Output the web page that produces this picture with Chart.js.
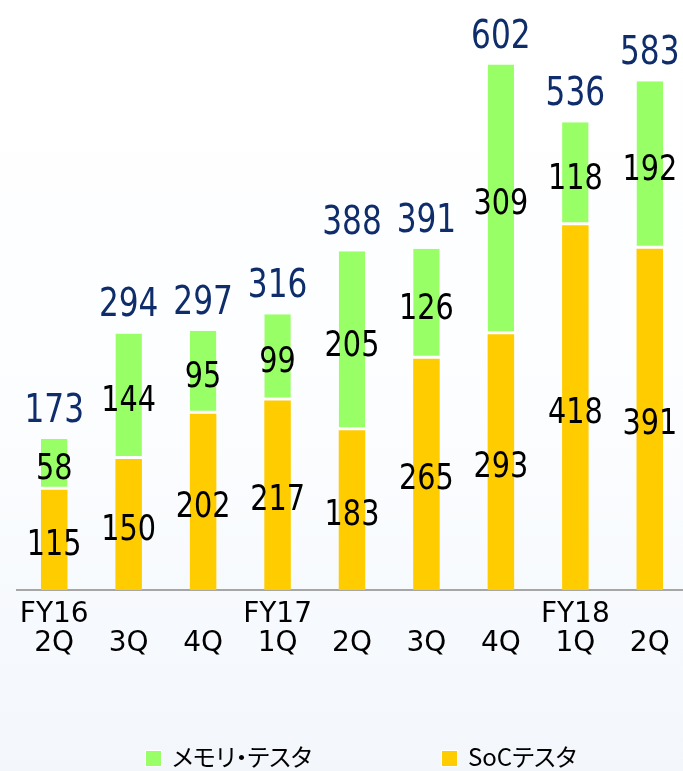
<!DOCTYPE html>
<html lang="ja">
<head>
  <meta charset="UTF-8" />
  <title>テスタ売上推移</title>
  <script src="https://cdn.jsdelivr.net/npm/chart.js"></script>
  <style>
    html, body { margin: 0; padding: 0; overflow: hidden; }
    body {
      width: 683px; height: 771px;
      background: linear-gradient(#ffffff 0%, #fdfeff 45%, #f3f7fc 100%);
    }
    #wrap { position: relative; width: 688px; height: 771px; }
    #legend {
      position: absolute; left: 0; top: 740px; width: 683px; height: 31px;
      font-family: "Noto Sans CJK JP", sans-serif; font-size: 24px;
      font-feature-settings: "palt"; color: #000;
    }
    #legend .item { position: absolute; top: 0; white-space: nowrap; line-height: 31px; }
    #legend .box {
      display: inline-block; width: 15px; height: 15px; margin-right: 10px;
      border: 1px solid #ffffff; vertical-align: -1px;
    }
  </style>
</head>
<body>
  <div id="wrap"><canvas id="salesChart" width="688" height="771"></canvas></div>
  <div id="legend"></div>

  <script>
    // chart data
    const quarters = [['FY16', '2Q'], ['', '3Q'], ['', '4Q'], ['FY17', '1Q'], ['', '2Q'], ['', '3Q'], ['', '4Q'], ['FY18', '1Q'], ['', '2Q']];
    const socTester = [115, 150, 202, 217, 183, 265, 293, 418, 391];
    const memoryTester = [58, 144, 95, 99, 205, 126, 309, 118, 192];
    const totals = [173, 294, 297, 316, 388, 391, 602, 536, 583];
    const seriesNames = ['SoCテスタ', 'メモリ・テスタ'];
    const legendOrder = [1, 0];

    const colors = ['#ffcc00', '#99ff66'];

    // text drawn a bit narrower, like the Tahoma of the original slide
    function drawNarrow(ctx, text, x, y, color, sx) {
      ctx.save();
      ctx.translate(x, y);
      ctx.scale(sx, 1);
      ctx.fillStyle = color;
      ctx.fillText(text, 0, 0);
      ctx.restore();
    }

    const barLabels = {
      id: 'barLabels',
      afterDatasetsDraw(chart) {
        const ctx = chart.ctx;
        ctx.save();
        ctx.textAlign = 'center';
        ctx.textBaseline = 'alphabetic';
        ctx.font = '35px "DejaVu Sans"';
        chart.data.datasets.forEach((ds, i) => {
          chart.getDatasetMeta(i).data.forEach((bar, j) => {
            const mid = (bar.y + bar.base) / 2;
            drawNarrow(ctx, String(ds.data[j]), bar.x, mid + 15, '#000000', 0.82);
          });
        });
        ctx.font = '39px "DejaVu Sans"';
        chart.getDatasetMeta(1).data.forEach((bar, j) => {
          drawNarrow(ctx, String(totals[j]), bar.x, bar.y - 17, '#0f2d6b', 0.8);
        });
        ctx.restore();
      }
    };

    const chart = new Chart(document.getElementById('salesChart'), {
      type: 'bar',
      data: {
        labels: quarters,
        datasets: [
          {
            label: seriesNames[0],
            data: socTester,
            backgroundColor: colors[0],
            borderWidth: 0
          },
          {
            label: seriesNames[1],
            data: memoryTester,
            backgroundColor: colors[1],
            borderColor: '#ffffff',
            borderWidth: { top: 0, left: 0, right: 0, bottom: 3 },
            borderSkipped: false
          }
        ]
      },
      options: {
        responsive: false,
        animation: false,
        layout: { padding: { left: 17, right: 1, top: 0, bottom: 0 } },
        categoryPercentage: 1,
        barPercentage: 0.356,
        plugins: {
          legend: { display: false },
          tooltip: { enabled: false }
        },
        scales: {
          x: {
            stacked: true,
            offset: true,
            grid: { display: false, drawTicks: false },
            border: { display: true, color: '#a6a6a6', width: 2 },
            ticks: {
              color: '#000000',
              font: { family: '"DejaVu Sans"', size: 28, lineHeight: 1.04 },
              padding: 10,
              maxRotation: 0,
              autoSkip: false
            },
            afterFit: (scale) => { scale.height = 181; }
          },
          y: {
            stacked: true,
            display: false,
            min: 0,
            max: 676
          }
        }
      },
      plugins: [barLabels]
    });

    // legend below the chart, memory first
    const legendX = [146, 442];
    const legendDiv = document.getElementById('legend');
    legendOrder.forEach((di, k) => {
      const ds = chart.data.datasets[di];
      const item = document.createElement('div');
      item.className = 'item';
      item.style.left = (legendX[k] - 1) + 'px';
      item.innerHTML = '<span class="box" style="background:' + ds.backgroundColor + '"></span>' + ds.label;
      legendDiv.appendChild(item);
    });
  </script>
</body>
</html>
